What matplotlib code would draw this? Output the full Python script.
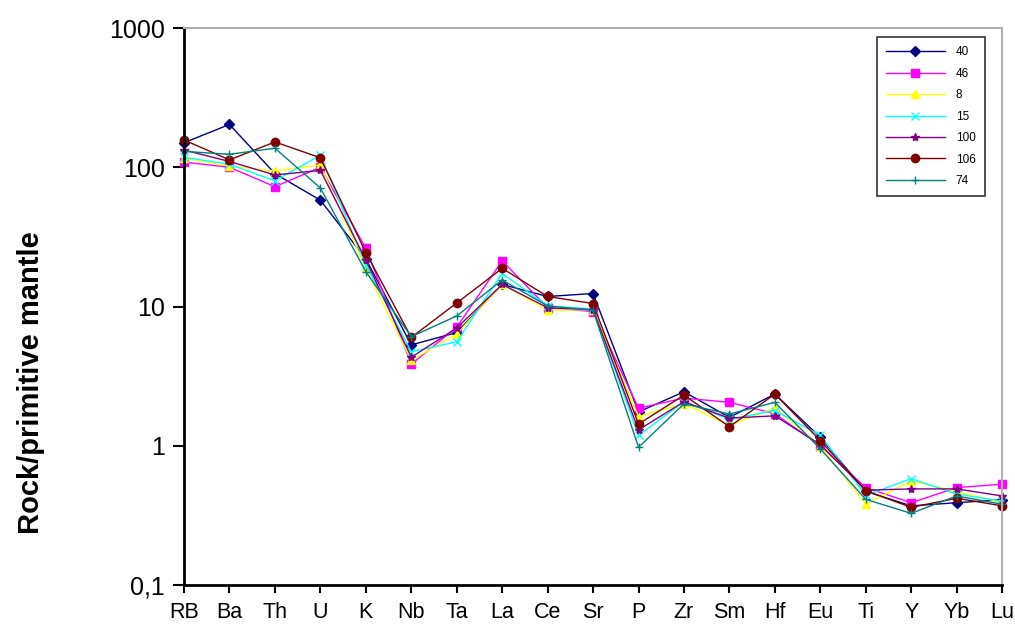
import matplotlib
matplotlib.use('Agg')
import matplotlib.pyplot as plt

elements = ['RB', 'Ba', 'Th', 'U', 'K', 'Nb', 'Ta', 'La', 'Ce', 'Sr',
            'P', 'Zr', 'Sm', 'Hf', 'Eu', 'Ti', 'Y', 'Yb', 'Lu']

s40 = [150, 203, 90, 58, 22, 5.3, 6.5, 14.4, 11.8, 12.4,
       1.75, 2.44, 1.6, 2.35, 1.15, 0.47, 0.37, 0.39, 0.41]
s46 = [109, 100, 72.5, 100, 26.2, 3.85, 7.1, 21.3, 9.8, 9.2,
       1.86, 2.2, 2.05, 1.7, 1.0, 0.50, 0.39, 0.50, 0.53]
s8 = [116, 102, 94, 104, 18.8, 4.1, 6.35, 14.4, 9.4, 9.5,
      1.62, 2.0, 1.4, 1.87, 1.0, 0.38, 0.56, 0.47, 0.39]
s15 = [118, 105, 80, 122, 19.9, 4.73, 5.58, 17.3, 10.1, 9.6,
       1.19, 2.07, 1.55, 1.79, 1.19, 0.44, 0.58, 0.45, 0.40]
s100 = [133, 110, 88, 95, 21.6, 4.32, 7.0, 14.4, 9.8, 9.5,
        1.30, 2.07, 1.58, 1.64, 1.02, 0.48, 0.49, 0.49, 0.436]
s106 = [157, 113, 152, 117, 24.4, 6.0, 10.6, 18.8, 11.8, 10.5,
        1.43, 2.31, 1.37, 2.35, 1.09, 0.476, 0.361, 0.42, 0.37]
s74 = [130, 124, 137, 71, 17.8, 6.07, 8.55, 15.5, 10.1, 9.4,
       0.975, 2.0, 1.69, 2.05, 0.95, 0.412, 0.327, 0.436, 0.38]

series = [
    ('40', s40, '#000080', 'D', 5),
    ('46', s46, '#FF00FF', 's', 6),
    ('8', s8, '#FFFF00', '^', 6),
    ('15', s15, '#00FFFF', 'x', 6),
    ('100', s100, '#800080', '*', 6),
    ('106', s106, '#800000', 'o', 6),
    ('74', s74, '#008080', '+', 6),
]

plt.rcParams['font.family'] = ['Liberation Sans', 'DejaVu Sans']

fig = plt.figure(figsize=(10.15, 6.24), dpi=100)
ax = fig.add_axes([0.1813, 0.0625, 0.806, 0.8926])

x = list(range(len(elements)))
for name, vals, col, mk, ms in series:
    ax.plot(x, vals, color=col, marker=mk, markersize=ms, linewidth=1.0,
            markeredgewidth=1.0, label=name, clip_on=False)

ax.set_yscale('log')
ax.set_ylim(0.1, 1000)
ax.set_xlim(0, len(elements) - 1)
ax.minorticks_off()
ax.set_yticks([0.1, 1, 10, 100, 1000])
ax.set_yticklabels(['0,1', '1', '10', '100', '1000'], fontsize=18)
ax.set_xticks(x)
ax.set_xticklabels(elements, fontsize=15.5)
ax.tick_params(axis='y', direction='out', length=8, width=1.5, pad=6)
ax.tick_params(axis='x', direction='out', length=6, width=1.5, pad=6)

ax.spines['left'].set_linewidth(2)
ax.spines['bottom'].set_linewidth(2)
for side in ['top', 'right']:
    ax.spines[side].set_color('#b0b0b0')
    ax.spines[side].set_linewidth(1.5)

ax.set_ylabel('Rock/primitive mantle', fontsize=21, fontweight='bold')
ax.yaxis.set_label_coords(-0.170, 0.363)

leg = ax.legend(loc='upper right', bbox_to_anchor=(0.979, 0.984), fontsize=8.5,
                frameon=True, fancybox=False, handlelength=5.0,
                labelspacing=0.8, borderpad=0.8, handletextpad=0.9,
                borderaxespad=0)
leg.get_frame().set_edgecolor('black')
leg.get_frame().set_linewidth(1.2)

plt.savefig('out.png', dpi=100)
plt.close()
